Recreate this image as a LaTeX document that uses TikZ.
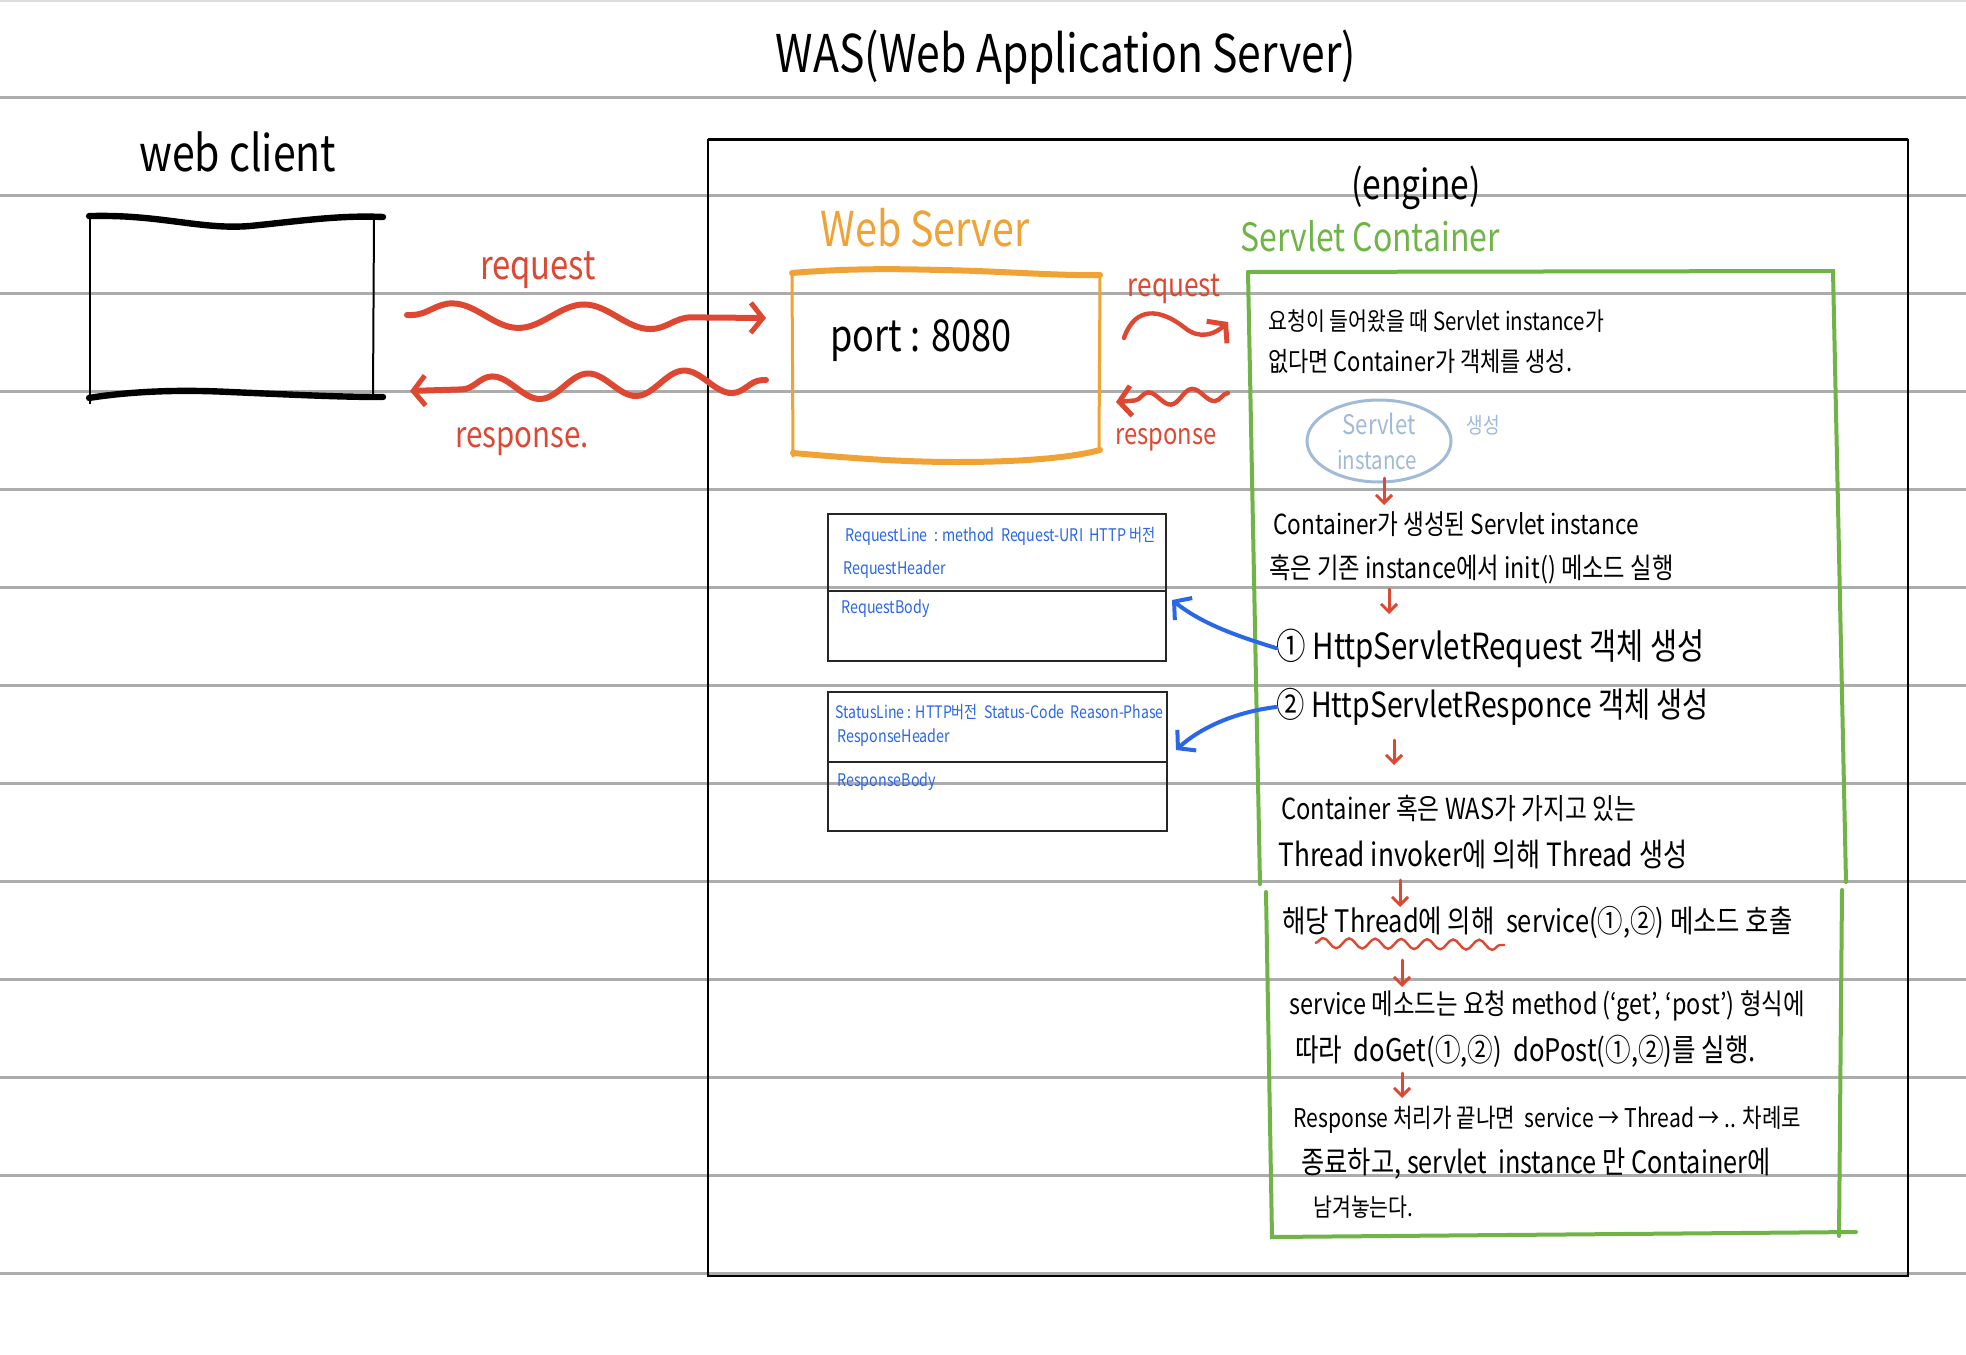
\documentclass[tikz,border=0pt]{standalone}
\usepackage{fontspec}
\setmainfont{Noto Sans CJK KR}[FakeStretch=0.82]
\usetikzlibrary{arrows.meta,decorations.pathmorphing,shapes.geometric}
\definecolor{rulegray}{RGB}{172,172,172}
\definecolor{myred}{RGB}{222,72,50}
\definecolor{myorange}{RGB}{240,163,52}
\definecolor{mygreen}{RGB}{112,180,72}
\definecolor{myblue}{RGB}{42,102,232}
\definecolor{lightblue}{RGB}{160,186,216}
\newcommand\myfs[1]{\fontsize{#1}{#1}\selectfont}
\begin{document}
\begin{tikzpicture}[x=0.5pt,y=-0.5pt,
  rule/.style={draw=rulegray, line width=1.5pt},
  body/.style={anchor=west, inner sep=0pt, font=\myfs{12.5}},
  bluetxt/.style={anchor=west, inner sep=0pt, text=myblue, font=\myfs{8.7}},
  redwave/.style={draw=myred, line width=3pt, line cap=round,
    -{Straight Barb[length=6pt,width=15pt,line width=2.5pt]}},
  downarrow/.style={draw=myred, line width=1.5pt, line cap=round,
    -{Straight Barb[length=4pt,width=8pt,line width=1.5pt]}},
  bluearrow/.style={draw=myblue, line width=2pt, line cap=round,
    -{Straight Barb[length=6pt,width=14pt,line width=2pt]}},
  tablebox/.style={draw=black!85, line width=1pt}
]
\useasboundingbox (0,0) rectangle (1966,1355);
\fill[white] (0,0) rectangle (1966,1355);

% ruled lines
\draw[draw=rulegray!40, line width=1pt] (0,1) -- (1966,1);
\foreach \yy in {97.5,195.5,293.5,391.5,489.5,587.5,685.5,783.5,881.5,979.5,1077.5,1175.5,1273.5}
  \draw[rule] (0,\yy) -- (1966,\yy);

% title
\node[font=\myfs{26}] (title) at (1066,57) {WAS(Web Application Server)};
\node[font=\myfs{25}] (wc) at (238,152) {web client};

% client box
\node[minimum width=146.5pt, minimum height=90.5pt, inner sep=0pt] (client) at (236,307) {};
\draw[line width=1pt] (90,217) -- (90,404);
\draw[line width=1pt] (374,217) -- (373,398);
\draw[line width=3.2pt, line cap=round] (client.north west) .. controls (160,214) and (200,230) .. (250,226) .. controls (300,221) and (340,215) .. (383,217);
\draw[line width=3.2pt, line cap=round] (client.south west) .. controls (140,390) and (190,390) .. (230,392) .. controls (300,395) and (340,397) .. (383,397);

% WAS box
\node[minimum width=600pt, minimum height=568pt, inner sep=0pt] (was) at (1308,708) {};
\draw[line width=1pt] (was.north west) rectangle (was.south east);
\draw[line width=1.6pt] (was.north west) -- (was.north east);

% web server
\node[text=myorange, font=\myfs{24}] (wslabel) at (925,228) {Web Server};
\node[minimum width=154pt, minimum height=92.5pt, inner sep=0pt] (ws) at (946,365) {};
\draw[draw=myorange, line width=1.5pt] (792,273) -- (793,457);
\draw[draw=myorange, line width=1.5pt] (1100,275) -- (1099,448);
\draw[draw=myorange, line width=3pt, line cap=round] (792,273) .. controls (850,268) and (900,269) .. (941,270) .. controls (1000,271) and (1060,276) .. (1100,275);
\draw[draw=myorange, line width=3pt, line cap=round] (793,453) .. controls (850,458) and (900,462) .. (957,462) .. controls (1020,462) and (1070,458) .. (1100,450);
\node[font=\myfs{22}] (port) at (921,341) {port : 8080};

% request / response between client and web server
\coordinate (rqs) at (407,315);
\coordinate (rqe) at (766,318);
\draw[redwave, decorate, decoration={snake, amplitude=6pt, segment length=66pt, post length=6pt, pre length=2pt}] (rqs) -- (rqe);
\node[text=myred, font=\myfs{20}] (rqlabel) at (538,270) {request};
\coordinate (rps) at (766,380);
\coordinate (rpe) at (410,391);
\draw[redwave, decorate, decoration={snake, amplitude=6pt, segment length=48pt, post length=6pt, pre length=2pt}] (rps) -- (rpe);
\node[text=myred, font=\myfs{18}] (rplabel) at (522,442) {response.};

% small request / response between web server and container
\coordinate (rq2s) at (1124,338);
\coordinate (rq2e) at (1228,322);
\draw[redwave, line width=2.2pt] (rq2s) .. controls (1135,306) and (1160,308) .. (1185,328) .. controls (1200,340) and (1215,334) .. (rq2e);
\node[text=myred, font=\myfs{16}] (rq2label) at (1174,289) {request};
\coordinate (rp2s) at (1228,393);
\coordinate (rp2e) at (1116,402);
\draw[redwave, line width=2.2pt, decorate, decoration={snake, amplitude=3.5pt, segment length=22pt, post length=5pt}] (rp2s) -- (rp2e);
\node[text=myred, font=\myfs{14.5}] (rp2label) at (1166,440) {response};

% servlet container
\node[font=\myfs{20.5}] (engine) at (1416,188) {(engine)};
\node[text=mygreen, font=\myfs{19.5}] (sclabel) at (1370,236) {Servlet Container};
\node[minimum width=292pt, minimum height=482pt, inner sep=0pt] (sc) at (1544,753) {};
\draw[draw=mygreen, line width=2pt, line cap=round] (1248,272) -- (1833,271) -- (1846,882);
\draw[draw=mygreen, line width=2pt, line cap=round] (1842,890) -- (1839,1236);
\draw[draw=mygreen, line width=2pt, line cap=round] (1248,272) -- (1260,884);
\draw[draw=mygreen, line width=2pt, line cap=round] (1266,892) -- (1272,1237) -- (1856,1232);

\node[body] (t1) at (1268,321) {요청이 들어왔을 때 Servlet instance가};
\node[body, font=\myfs{13.4}] (t2) at (1268,361) {없다면 Container가 객체를 생성.};
\node[draw=lightblue, line width=1.5pt, ellipse, minimum width=72pt, minimum height=41pt, inner sep=0pt] (ell) at (1379,441) {};
\node[text=lightblue, font=\myfs{13.5}] (ell1) at (1379,424) {Servlet};
\node[text=lightblue, font=\myfs{12.5}] (ell2) at (1377,460) {instance};
\node[text=lightblue, font=\myfs{11}] (gen) at (1483,425) {생성};
\coordinate (a1s) at (1384,478);
\coordinate (a1e) at (1384,505);
\draw[downarrow] (a1s) -- (a1e);
\node[body, font=\myfs{13.8}] (t3) at (1273,524) {Container가 생성된 Servlet instance};
\node[body, font=\myfs{14.2}] (t4) at (1269,569) {혹은 기존 instance에서 init() 메소드 실행};
\coordinate (a2s) at (1389,589);
\coordinate (a2e) at (1389,614);
\draw[downarrow] (a2s) -- (a2e);
\node[body, font=\myfs{18}] (t5) at (1276,648) {① HttpServletRequest 객체 생성};
\node[body, font=\myfs{17.3}] (t6) at (1276,707) {② HttpServletResponce 객체 생성};
\coordinate (a3s) at (1394,740);
\coordinate (a3e) at (1394,765);
\draw[downarrow] (a3s) -- (a3e);
\node[body, font=\myfs{14.5}] (t7) at (1281,808) {Container 혹은 WAS가 가지고 있는};
\node[body, font=\myfs{16}] (t8) at (1278,855) {Thread invoker에 의해 Thread 생성};
\coordinate (a4s) at (1400,880);
\coordinate (a4e) at (1400,907);
\draw[downarrow] (a4s) -- (a4e);
\node[body, font=\myfs{15.5}] (t9) at (1282,922) {해당 Thread에 의해 \ service(①,②) 메소드 호출};
\coordinate (u1) at (1315,943);
\coordinate (u2) at (1505,945);
\draw[draw=myred, line width=1.2pt, decorate, decoration={snake, amplitude=2.5pt, segment length=13pt}] (u1) -- (u2);
\coordinate (a5s) at (1402,960);
\coordinate (a5e) at (1402,987);
\draw[downarrow] (a5s) -- (a5e);
\node[body, font=\myfs{14.3}] (t10) at (1289,1006) {service 메소드는 요청 method (`get', `post') 형식에};
\node[body, font=\myfs{15.6}] (t11) at (1295,1051) {따라 \ doGet(①,②) \ doPost(①,②)를 실행.};
\coordinate (a6s) at (1402,1073);
\coordinate (a6e) at (1402,1098);
\draw[downarrow] (a6s) -- (a6e);
\node[body, font=\myfs{12.9}] (t12) at (1293,1120) {Response 처리가 끝나면 \ service → Thread → .. 차례로};
\node[body, font=\myfs{15.4}] (t13) at (1301,1164) {종료하고, servlet \ instance 만 Container에};
\node[body] (t14) at (1313,1207) {남겨놓는다.};

% request table
\node[tablebox, minimum width=169pt, minimum height=73.5pt, inner sep=0pt] (reqbox) at (997,587.5) {};
\draw[tablebox] (828,591) -- (1166,591);
\node[bluetxt] (rl) at (845,536) {RequestLine \ : method \ Request-URI \ HTTP 버전};
\node[bluetxt] (rh) at (843,570) {RequestHeader};
\node[bluetxt] (rb) at (841,609) {RequestBody};

% response table
\node[tablebox, minimum width=169.5pt, minimum height=69.5pt, inner sep=0pt] (respbox) at (997.5,761.5) {};
\draw[tablebox] (828,762) -- (1167,762);
\node[bluetxt, font=\myfs{8.6}] (sl) at (835,712) {StatusLine : HTTP버전 \ Status-Code \ Reason-Phase};
\node[bluetxt] (sh) at (837,738) {ResponseHeader};
\node[bluetxt] (sb) at (837,782) {ResponseBody};

% blue arrows
\coordinate (b1e) at (1172,600);
\draw[bluearrow] (t5.west) .. controls (1230,634) and (1200,622) .. (b1e);
\coordinate (b2e) at (1176,750);
\draw[bluearrow] (t6.west) .. controls (1235,712) and (1200,728) .. (b2e);
\end{tikzpicture}
\end{document}
